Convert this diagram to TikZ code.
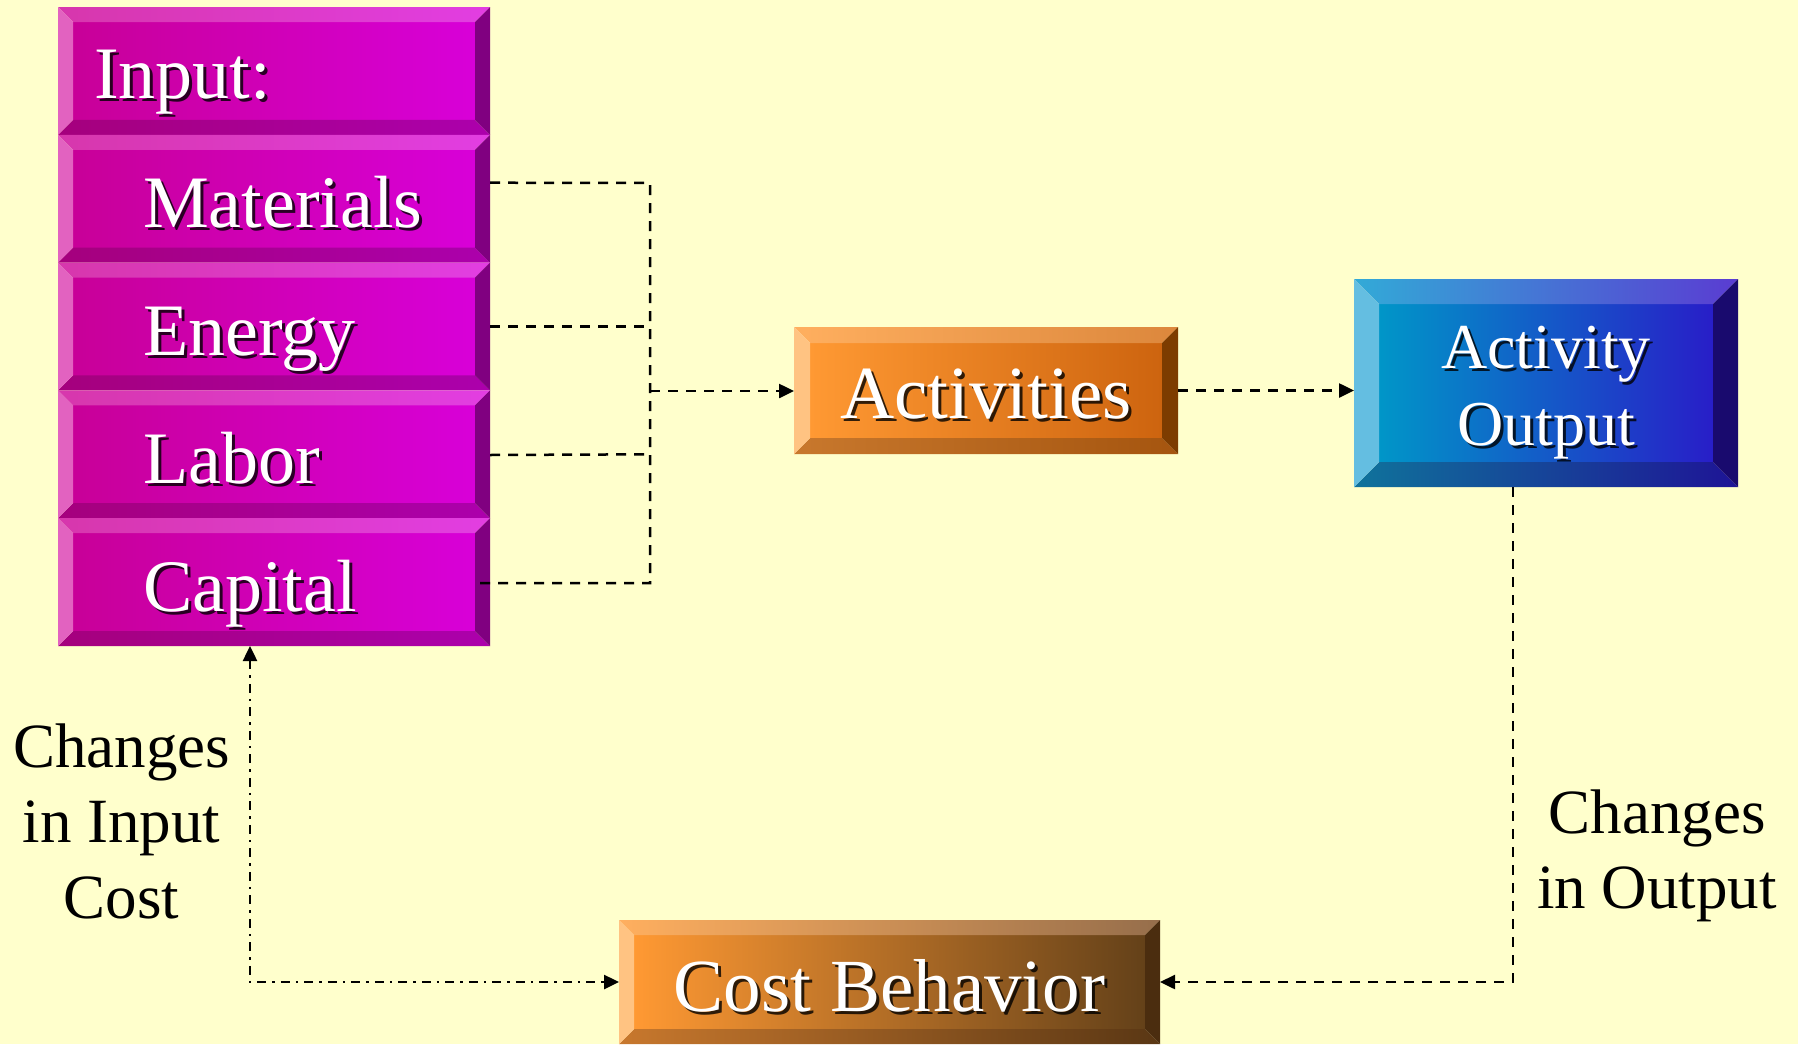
\documentclass[tikz,border=0pt]{standalone}
\usepackage{fontspec}
\setmainfont{Liberation Serif}
\usetikzlibrary{arrows.meta,calc}

\definecolor{bg}{RGB}{255,255,204}
% magenta
\definecolor{magFL}{RGB}{200,0,152}\definecolor{magFR}{RGB}{216,0,216}
\definecolor{magTL}{RGB}{215,55,172}\definecolor{magTR}{RGB}{226,62,226}
\definecolor{magBL}{RGB}{165,0,125}\definecolor{magBR}{RGB}{172,0,172}
\definecolor{magL}{RGB}{226,98,192}\definecolor{magR}{RGB}{128,0,128}
% orange
\definecolor{orFL}{RGB}{255,153,51}\definecolor{orFR}{RGB}{205,100,15}
\definecolor{orTL}{RGB}{255,175,95}\definecolor{orTR}{RGB}{220,135,60}
\definecolor{orBL}{RGB}{200,120,45}\definecolor{orBR}{RGB}{165,85,15}
\definecolor{orL}{RGB}{255,195,130}\definecolor{orR}{RGB}{125,60,0}
% blue
\definecolor{blFL}{RGB}{0,150,200}\definecolor{blFR}{RGB}{40,30,200}
\definecolor{blTL}{RGB}{50,170,215}\definecolor{blTR}{RGB}{90,60,210}
\definecolor{blBL}{RGB}{15,115,155}\definecolor{blBR}{RGB}{30,20,150}
\definecolor{blL}{RGB}{100,190,225}\definecolor{blR}{RGB}{25,10,110}
% brown
\definecolor{brFL}{RGB}{255,153,51}\definecolor{brFR}{RGB}{100,65,25}
\definecolor{brTL}{RGB}{255,175,95}\definecolor{brTR}{RGB}{150,110,75}
\definecolor{brBL}{RGB}{200,120,45}\definecolor{brBR}{RGB}{90,55,20}
\definecolor{brL}{RGB}{255,195,130}\definecolor{brR}{RGB}{75,45,15}

\newcommand{\bevelbox}[3]{%
 \shade[left color=#3FL,right color=#3FR] ($(#1.north west)+(#2,-#2)$) rectangle ($(#1.south east)+(-#2,#2)$);
 \shade[left color=#3TL,right color=#3TR] (#1.north west) -- (#1.north east) -- ($(#1.north east)+(-#2,-#2)$) -- ($(#1.north west)+(#2,-#2)$) -- cycle;
 \shade[left color=#3BL,right color=#3BR] (#1.south west) -- (#1.south east) -- ($(#1.south east)+(-#2,#2)$) -- ($(#1.south west)+(#2,#2)$) -- cycle;
 \fill[#3L] (#1.north west) -- ($(#1.north west)+(#2,-#2)$) -- ($(#1.south west)+(#2,#2)$) -- (#1.south west) -- cycle;
 \fill[#3R] (#1.north east) -- ($(#1.north east)+(-#2,-#2)$) -- ($(#1.south east)+(-#2,#2)$) -- (#1.south east) -- cycle;
}
\newcommand{\shtext}[5]{%
 \node[anchor=#2, text=black, opacity=.8, font=\fontsize{#4}{#4}\selectfont, inner sep=0pt, xshift=3pt, yshift=-3pt] at #3 {#5};
 \node[anchor=#2, text=white, font=\fontsize{#4}{#4}\selectfont, inner sep=0pt] (#1) at #3 {#5};
}

\tikzset{
 box/.style={rectangle, inner sep=0pt, outer sep=0pt, draw=none},
 lbl/.style={inner sep=0pt, text=black, font=\fontsize{63}{63}\selectfont, anchor=base},
 dsh/.style={line width=2.5pt, dash pattern=on 10pt off 8pt, draw=black},
 ddot/.style={line width=2.5pt, dash pattern=on 9pt off 6pt on 2.5pt off 6pt, draw=black},
 tip/.style={-{Triangle[length=15pt,width=14pt]}}
}

\begin{document}
\begin{tikzpicture}[x=1pt,y=-1pt]
\useasboundingbox (0,0) rectangle (1798,1044);
\fill[bg] (0,0) rectangle (1798,1044);

% input stack
\node[box, minimum width=432pt, minimum height=127.8pt] (in1) at (274,70.9) {};
\node[box, minimum width=432pt, minimum height=127.8pt] (in2) at (274,198.7) {};
\node[box, minimum width=432pt, minimum height=127.8pt] (in3) at (274,326.5) {};
\node[box, minimum width=432pt, minimum height=127.8pt] (in4) at (274,454.3) {};
\node[box, minimum width=432pt, minimum height=127.8pt] (in5) at (274,582.1) {};
\bevelbox{in1}{15pt}{mag}
\bevelbox{in2}{15pt}{mag}
\bevelbox{in3}{15pt}{mag}
\bevelbox{in4}{15pt}{mag}
\bevelbox{in5}{15pt}{mag}

\node[box, minimum width=384pt, minimum height=127pt] (act) at (986,390.5) {};
\bevelbox{act}{16pt}{or}
\node[box, minimum width=384pt, minimum height=208pt] (out) at (1546,383) {};
\bevelbox{out}{25pt}{bl}
\node[box, minimum width=541pt, minimum height=124pt] (cost) at (889.5,982) {};
\bevelbox{cost}{15pt}{br}

% texts in boxes
\shtext{tin}{base west}{(94,98)}{74}{Input:}
\shtext{tmat}{base west}{(143,227)}{74}{Materials}
\shtext{teng}{base west}{(143,355)}{74}{Energy}
\shtext{tlab}{base west}{(143,483)}{74}{Labor}
\shtext{tcap}{base west}{(143,611)}{74}{Capital}
\shtext{tact}{base}{(986,418)}{75}{Activities}
\shtext{tout1}{base}{(1546,368)}{64}{Activity}
\shtext{tout2}{base}{(1546,445)}{64}{Output}
\shtext{tcost}{base}{(889.5,1011)}{75}{Cost Behavior}

% labels
\node[lbl] (l1) at (121.5,767) {Changes};
\node[lbl] (l2) at (121.5,842) {in Input};
\node[lbl] (l3) at (121.5,918) {Cost};
\node[lbl] (r1) at (1657,833) {Changes};
\node[lbl] (r2) at (1657,908) {in Output};

% connectors
\coordinate (jt) at (650,183);
\coordinate (jm) at (650,391);
\coordinate (jb) at (650,583);
\coordinate (oc) at (1513,982);
\coordinate (dc) at (250,982);

\draw[dsh] ($(in2.east)+(0,16pt)$) -- (jt) -- (jb) -- ($(in5.east)+(-16pt,-1pt)$);
\draw[dsh] (in3.east) -- (in3.east -| jt);
\draw[dsh] ($(in4.east)+(0,-0.7pt)$) -- (in4.east -| jt);
\draw[dsh,tip] (jm) -- (jm -| act.west);
\draw[dsh,tip] (act.east) -- (act.east -| out.west);
\draw[dsh,tip] (out.south -| oc) -- (oc) -- (oc -| cost.east);
\draw[ddot,{Triangle[length=15pt,width=14pt]}-{Triangle[length=15pt,width=14pt]}] (in5.south -| dc) -- (dc) -- (dc -| cost.west);
\end{tikzpicture}
\end{document}
